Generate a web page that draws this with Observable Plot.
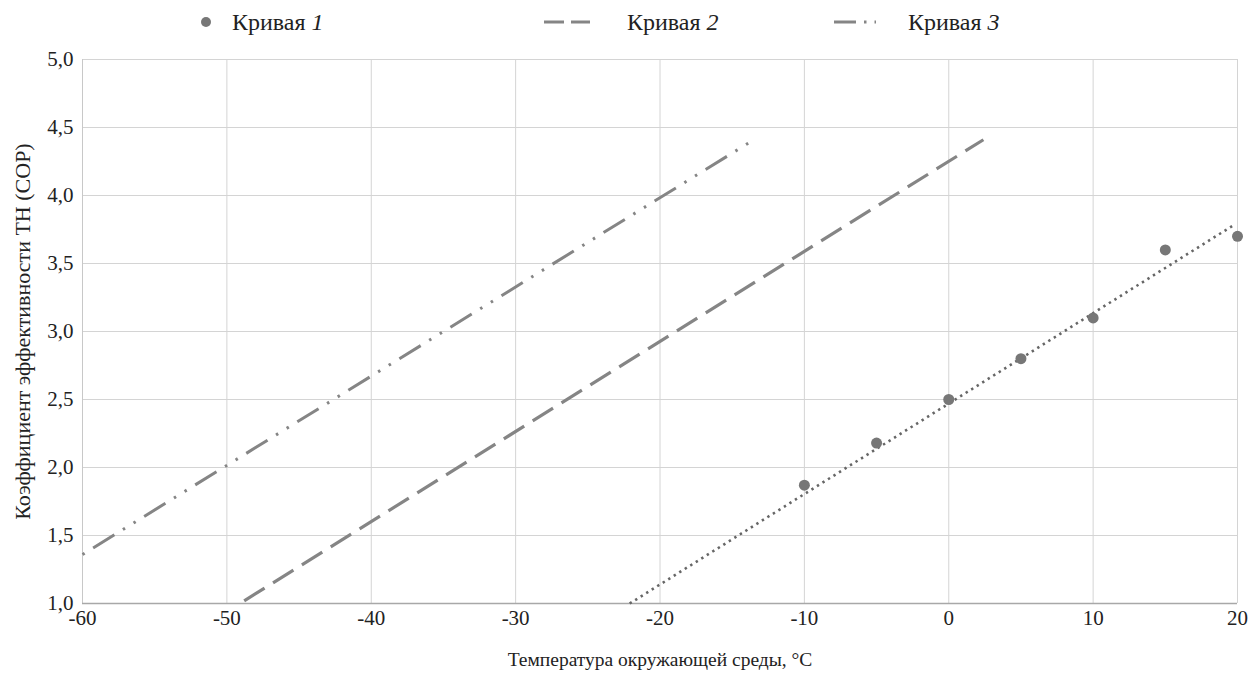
<!DOCTYPE html>
<html><head><meta charset="utf-8">
<script src="https://cdn.jsdelivr.net/npm/d3@7"></script>
<script src="https://cdn.jsdelivr.net/npm/@observablehq/plot@0.6"></script>
<style>body{margin:0}</style></head>
<body>
<div id="legend" style="position:relative;width:1252px;height:44px;font-family:'Liberation Serif'"></div>
<div id="chart"></div>
<script>
// ---- data ----
const seriesNames = ["Кривая", "Кривая", "Кривая"];
const seriesNumbers = ["1", "2", "3"];

// Curve 1: measured points
const curve1T = [-10, -5, 0, 5, 10, 15, 20];
const curve1COP = [1.87, 2.18, 2.50, 2.80, 3.10, 3.60, 3.70];
// Curve 1: linear trend line
const trend1T = [-22.1, 19.7];
const trend1COP = [1.0, 3.78];
// Curve 2
const curve2T = [-48.8, 2.4];
const curve2COP = [1.02, 4.41];
// Curve 3
const curve3T = [-60, -13.5];
const curve3COP = [1.36, 4.41];

const xTicks = [-60, -50, -40, -30, -20, -10, 0, 10, 20];
const yTicks = [1.0, 1.5, 2.0, 2.5, 3.0, 3.5, 4.0, 4.5, 5.0];
const xTitle = "Температура окружающей среды, °C";
const yTitle = "Коэффициент эффективности ТН (COP)";

// ---- build tables ----
const pts = curve1T.map((t, i) => ({t, cop: curve1COP[i]}));
const tr1 = trend1T.map((t, i) => ({t, cop: trend1COP[i]}));
const c2 = curve2T.map((t, i) => ({t, cop: curve2COP[i]}));
const c3 = curve3T.map((t, i) => ({t, cop: curve3COP[i]}));

const fmt = d => d.toFixed(1).replace(".", ",");

// ---- legend ----
const swatches = [
  {left: 198, w: 20, svg: '<circle cx="8" cy="15" r="5" fill="#777"/>'},
  {left: 544, w: 60, svg: '<line x1="0" y1="15" x2="46" y2="15" stroke="#858585" stroke-width="3.2" stroke-dasharray="20,7"/>'},
  {left: 834, w: 50, svg: '<line x1="0" y1="15" x2="42" y2="15" stroke="#858585" stroke-width="3" stroke-dasharray="22,8,2.5,8,2.5,8"/>'}
];
const textLefts = [232, 627, 908];
let html = "";
swatches.forEach((s, i) => {
  html += `<svg style="position:absolute;left:${s.left}px;top:7px" width="${s.w}" height="30">${s.svg}</svg>`;
  html += `<div style="position:absolute;left:${textLefts[i]}px;top:7px;height:30px;line-height:30px;white-space:nowrap;color:#222;font-family:'Liberation Serif';font-size:24px">${seriesNames[i]} <i style="font-family:'Liberation Serif'">${seriesNumbers[i]}</i></div>`;
});
document.getElementById("legend").innerHTML = html;

// ---- chart ----
const chart = Plot.plot({
  width: 1252,
  height: 630,
  marginTop: 15,
  marginLeft: 82,
  marginRight: 15,
  marginBottom: 71,
  style: {fontFamily: "'Liberation Serif', serif", fontSize: "21px", color: "#222"},
  x: {domain: [-60, 20]},
  y: {domain: [1, 5]},
  marks: [
    Plot.gridX(xTicks, {stroke: "#d4d4d4", strokeOpacity: 1, strokeWidth: 1}),
    Plot.gridY(yTicks, {stroke: "#d4d4d4", strokeOpacity: 1, strokeWidth: 1}),
    Plot.ruleX([-60], {stroke: "#c8c8c8", strokeWidth: 1}),
    Plot.ruleY([1], {stroke: "#a8a8a8", strokeWidth: 1.5}),
    Plot.axisX({ticks: xTicks, tickSize: 0, tickPadding: 7, fontSize: 21, label: null, tickFormat: d => String(d)}),
    Plot.axisY({ticks: yTicks, tickSize: 0, tickPadding: 9, fontSize: 21, label: null, tickFormat: fmt}),
    Plot.text([xTitle], {frameAnchor: "bottom", dy: 62, fontSize: 19.5, fill: "#222"}),
    Plot.text([yTitle], {frameAnchor: "left", dx: -60, rotate: -90, textAnchor: "middle", fontSize: 22, fill: "#222"}),
    Plot.line(c3, {x: "t", y: "cop", stroke: "#858585", strokeWidth: 3, strokeDasharray: "25,10,2.5,10,2.5,10", strokeDashoffset: 47.5, strokeLinecap: "butt"}),
    Plot.line(c2, {x: "t", y: "cop", stroke: "#858585", strokeWidth: 3.2, strokeDasharray: "24,10", strokeLinecap: "butt"}),
    Plot.line(tr1, {x: "t", y: "cop", stroke: "#666", strokeWidth: 2.6, strokeDasharray: "2.4,4.1", strokeLinecap: "butt"}),
    Plot.dot(pts, {x: "t", y: "cop", r: 5.5, fill: "#777", stroke: "none"})
  ]
});
document.getElementById("chart").appendChild(chart);
</script>
</body></html>
